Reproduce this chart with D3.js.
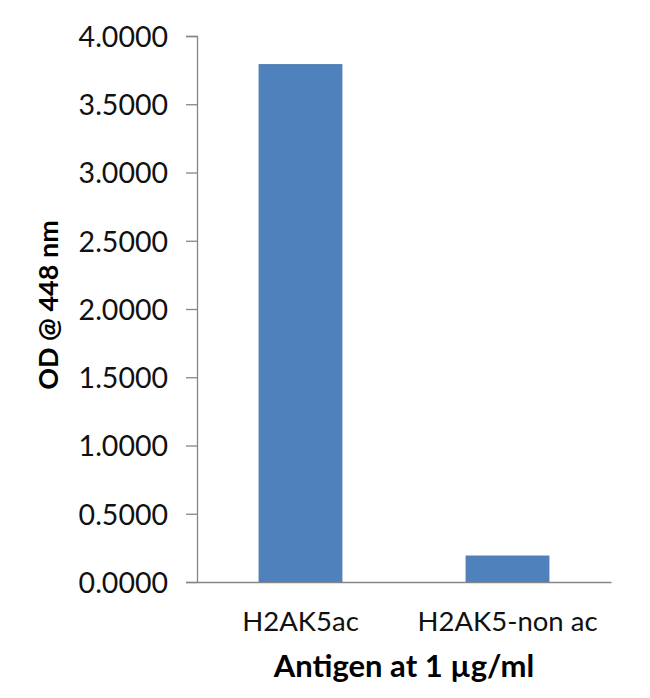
<!DOCTYPE html>
<html><head><meta charset="utf-8">
<script src="https://cdn.jsdelivr.net/npm/d3@7"></script>
<style>body{margin:0;background:#fff}svg{display:block}</style>
</head><body>
<script>
const categories = ["H2AK5ac", "H2AK5-non ac"];
const values = [3.79, 0.19];
const yTicks = [0, 0.5, 1.0, 1.5, 2.0, 2.5, 3.0, 3.5, 4.0];
const yTitle = "OD @ 448 nm";
const xTitle = "Antigen at 1 µg/ml";

const W = 650, H = 698;
const svg = d3.select("body").append("svg").attr("width", W).attr("height", H);
const font = "Lato, 'Open Sans', sans-serif";

const y = d3.scaleLinear().domain([0, 4]).range([582, 36]);
const x = d3.scaleBand().domain(categories).range([197, 611]).paddingInner(0.6).paddingOuter(0.3);

// bars
svg.selectAll("rect.bar").data(values).enter().append("rect")
  .attr("class", "bar")
  .attr("x", (d, i) => x(categories[i]))
  .attr("width", x.bandwidth())
  .attr("y", d => y(d))
  .attr("height", d => y(0) - y(d))
  .attr("fill", "#4f81bd")
  .attr("stroke", "#4a78b0").attr("stroke-width", 1);

// y axis
const yAxis = d3.axisLeft(y).tickValues(yTicks).tickFormat(d3.format(".4f")).tickSize(11).tickPadding(18);
const gy = svg.append("g").attr("transform", "translate(197,0)").call(yAxis);
gy.select(".domain").attr("stroke", "#868686").attr("stroke-width", 1.3);
gy.selectAll(".tick line").attr("stroke", "#868686").attr("stroke-width", 1.3);
gy.selectAll(".tick text").attr("font-family", font).attr("font-size", 28.5).attr("fill", "#111").attr("dy", "0.36em");

// x axis
const xAxis = d3.axisBottom(x).tickSize(0).tickPadding(29);
const gx = svg.append("g").attr("transform", "translate(0,582)").call(xAxis);
gx.select(".domain").attr("stroke", "#868686").attr("stroke-width", 1.6);
gx.selectAll(".tick text").attr("font-family", font).attr("font-size", 27.5).attr("fill", "#111");

// titles
svg.append("text").attr("x", 404).attr("y", 677).attr("text-anchor", "middle")
  .attr("font-family", font).attr("font-weight", "bold").attr("font-size", 31).attr("fill", "#000")
  .text(xTitle);
svg.append("text").attr("transform", "translate(58,305) rotate(-90)").attr("text-anchor", "middle")
  .attr("font-family", font).attr("font-weight", "bold").attr("font-size", 27).attr("fill", "#000")
  .text(yTitle);
</script>
</body></html>
